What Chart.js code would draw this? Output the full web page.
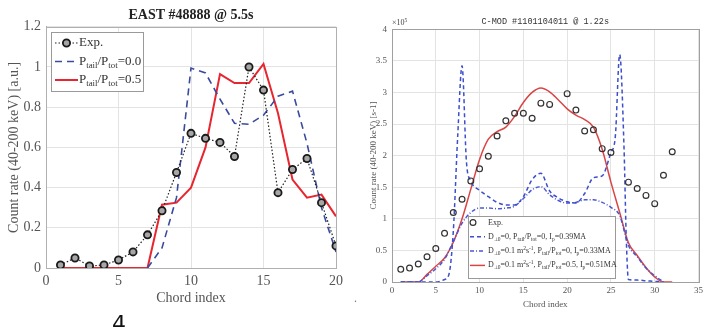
<!DOCTYPE html>
<html>
<head>
<meta charset="utf-8">
<script src="https://cdn.jsdelivr.net/npm/chart.js@4"></script>
<style>
  body { margin: 0; background: #fff; width: 706px; height: 327px; position: relative; overflow: hidden; }
  #eastBox { position: absolute; left: 0; top: 0; width: 360px; height: 327px; }
  #cmodBox { position: absolute; left: 360px; top: 0; width: 346px; height: 327px; }
  #figNum { position: absolute; left: 112px; top: 313px; font: normal 22px/22px 'DejaVu Sans', sans-serif; font-style: normal; color: #111; }
  #dot { position: absolute; left: 354px; top: 292px; font: 12px/12px 'Liberation Serif', serif; color: #777; }
</style>
</head>
<body>
<div id="eastBox"><canvas id="eastChart"></canvas></div>
<div id="cmodBox"><canvas id="cmodChart"></canvas></div>
<div id="figNum">4</div>
<div id="dot">.</div>
<script>
// EAST #48888 @ 5.5s
const eastChords = [1, 2, 3, 4, 5, 6, 7, 8, 9, 10, 11, 12, 13, 14, 15, 16, 17, 18, 19, 20];
const eastExp = [0.015, 0.05, 0.01, 0.015, 0.04, 0.08, 0.165, 0.285, 0.475, 0.67, 0.645, 0.625, 0.555, 1.0, 0.885, 0.375, 0.49, 0.545, 0.325, 0.11];
const eastTail00 = [null, null, null, null, null, null, 0, 0.1, 0.35, 0.995, 0.97, 0.84, 0.72, 0.715, 0.76, 0.855, 0.88, 0.62, 0.3, 0.08];
const eastTail05 = [0, 0, 0, 0, 0, 0, 0, 0.315, 0.325, 0.4, 0.6, 0.965, 0.92, 0.92, 1.015, 0.77, 0.44, 0.35, 0.365, 0.257];
const eastXTicks = [0, 5, 10, 15, 20];
const eastYTicks = [0, 0.2, 0.4, 0.6, 0.8, 1, 1.2];
const eastLegend = ['Exp.', 'P_{tail}/P_{tot}=0.0', 'P_{tail}/P_{tot}=0.5'];

// C-MOD #1101104011 @ 1.22s  (units of 1e5 s^-1)
const cmodChords = [1, 2, 3, 4, 5, 6, 7, 8, 9, 10, 11, 12, 13, 14, 15, 16, 17, 18, 19, 20, 21, 22, 23, 24, 25, 26, 27, 28, 29, 30, 31, 32];
const cmodExp = [0.2, 0.22, 0.285, 0.4, 0.53, 0.77, 1.1, 1.31, 1.6, 1.79, 1.99, 2.31, 2.55, 2.67, 2.67, 2.59, 2.83, 2.81, null, 2.98, 2.72, 2.39, 2.41, 2.11, 2.05, null, 1.58, 1.48, 1.37, 1.24, 1.69, 2.06];
const cmodNoDiffChords = [1, 2, 3, 4, 5, 6, 6.5, 7, 7.5, 8, 8.5, 9, 10, 11, 12, 13, 14, 15, 16, 17, 18, 19, 20, 21, 22, 23, 24, 25, 25.5, 26, 26.5, 26.75, 27, 28, 29, 30, 31];
const cmodNoDiff = [0, 0, 0, 0, 0, 0.04, 0.12, 0.8, 2.3, 3.42, 1.9, 1.6, 1.45, 1.35, 1.26, 1.22, 1.22, 1.35, 1.62, 1.72, 1.44, 1.33, 1.27, 1.25, 1.4, 1.65, 1.68, 2.05, 2.3, 3.6, 2.1, 0.7, 0.04, 0.03, 0.02, 0.01, 0];
const cmodTail0 = [0, 0, 0, 0.1, 0.21, 0.36, 0.64, 0.93, 1.1, 1.17, 1.17, 1.16, 1.17, 1.2, 1.32, 1.46, 1.51, 1.38, 1.29, 1.25, 1.26, 1.3, 1.3, 1.26, 1.18, 1.05, 0.58, 0.4, 0.22, 0.1, 0, null];
const cmodTail05 = [0, 0, 0, 0.12, 0.25, 0.38, 0.63, 1.0, 1.47, 1.94, 2.26, 2.38, 2.45, 2.62, 2.84, 3.0, 3.07, 3.01, 2.88, 2.74, 2.64, 2.57, 2.45, 2.1, 1.58, 1.1, 0.62, 0.42, 0.23, 0.08, 0, 0];
const cmodXTicks = [0, 5, 10, 15, 20, 25, 30, 35];
const cmodYTicks = [0, 0.5, 1, 1.5, 2, 2.5, 3, 3.5, 4];
const cmodLegend = [
  'Exp.',
  'D_{⊥0}=0, P_{tail}/P_{tot}=0, I_{p}=0.39MA',
  'D_{⊥0}=0.1 m^{2}s^{-1}, P_{tail}/P_{tot}=0, I_{p}=0.33MA',
  'D_{⊥0}=0.1 m^{2}s^{-1}, P_{tail}/P_{tot}=0.5, I_{p}=0.51MA'
];

const SERIF = "'Liberation Serif', 'Times New Roman', serif";
const pts = (xs, ys) => xs.map((x, i) => ({ x: x, y: ys[i] }));
const useTicks = (list) => (scale) => { scale.ticks = list.map(v => ({ value: v })); };

// text with _{sub} and ^{sup} parts
function drawRich(ctx, x, y, text, size, family) {
  text.split(/(_\{[^}]*\}|\^\{[^}]*\})/).forEach(part => {
    if (!part) return;
    let s = size, dy = 0, t = part;
    if (part.startsWith('_{')) { s = size * 0.68; dy = size * 0.32; t = part.slice(2, -1); }
    else if (part.startsWith('^{')) { s = size * 0.68; dy = -size * 0.36; t = part.slice(2, -1); }
    ctx.font = s + 'px ' + family;
    ctx.fillText(t, x, y + dy);
    x += ctx.measureText(t).width;
  });
}

// box around the plot, matlab style
const frame = {
  id: 'frame',
  afterDraw(chart, args, o) {
    const { ctx, chartArea: a } = chart;
    ctx.save();
    ctx.strokeStyle = o.color;
    ctx.lineWidth = 1;
    ctx.strokeRect(Math.round(a.left) + 0.5, Math.round(a.top) + 0.5, Math.round(a.width), Math.round(a.height));
    if (o.exponent) {
      ctx.fillStyle = '#444';
      ctx.textBaseline = 'alphabetic';
      drawRich(ctx, a.left, a.top - 4, o.exponent, 8, SERIF);
    }
    ctx.restore();
  }
};

// boxed legend with sub/superscripts
const boxLegend = {
  id: 'boxLegend',
  afterDraw(chart, args, o) {
    const { ctx, chartArea: a } = chart;
    const x0 = Math.round(a.left + o.x), y0 = Math.round(a.top + o.y);
    ctx.save();
    ctx.fillStyle = '#fff';
    ctx.fillRect(x0, y0, o.w, o.h);
    ctx.strokeStyle = o.edge;
    ctx.lineWidth = 1;
    ctx.strokeRect(x0 + 0.5, y0 + 0.5, o.w, o.h);
    o.labels.forEach((label, i) => {
      const ds = chart.data.datasets[i];
      const cy = y0 + o.first + i * o.step;
      if (ds.showLine !== false) {
        ctx.setLineDash(ds.borderDash || []);
        ctx.strokeStyle = ds.borderColor;
        ctx.lineWidth = ds.borderWidth;
        ctx.beginPath();
        ctx.moveTo(x0 + o.lineFrom, cy);
        ctx.lineTo(x0 + o.lineTo, cy);
        ctx.stroke();
        ctx.setLineDash([]);
      }
      if (ds.pointRadius > 0) {
        ctx.beginPath();
        ctx.arc(x0 + o.markX, cy, ds.pointRadius, 0, 2 * Math.PI);
        ctx.fillStyle = ds.pointBackgroundColor;
        ctx.fill();
        ctx.strokeStyle = ds.pointBorderColor;
        ctx.lineWidth = ds.pointBorderWidth;
        ctx.stroke();
      }
      ctx.fillStyle = o.color;
      ctx.textBaseline = 'middle';
      drawRich(ctx, x0 + o.textX, cy, label, o.size, SERIF);
    });
    ctx.restore();
  }
};

// Left chart: EAST

const eastConfig = {
  type: 'line',
  data: {
    datasets: [
      {
        data: pts(eastChords, eastExp),
        borderColor: '#222',
        borderWidth: 1.2,
        borderDash: [1.5, 2],
        pointRadius: 3.6,
        pointBackgroundColor: '#a6a6a6',
        pointBorderColor: '#1a1a1a',
        pointBorderWidth: 1.8,
      },
      {
        data: pts(eastChords, eastTail00),
        borderColor: '#3a4b9e',
        borderWidth: 1.6,
        borderDash: [7, 5],
        pointRadius: 0,
      },
      {
        data: pts(eastChords, eastTail05),
        borderColor: '#e8262f',
        borderWidth: 2,
        pointRadius: 0,
      },
    ],
  },
  options: {
    responsive: true,
    maintainAspectRatio: false,
    animation: false,
    layout: { padding: { left: 0, right: 24, top: 0, bottom: 0 } },
    scales: {
      x: {
        type: 'linear',
        min: 0,
        max: 20,
        afterBuildTicks: useTicks(eastXTicks),
        afterFit: (s) => { s.height = 59; },
        ticks: { padding: 5, color: '#555', font: { family: SERIF, size: 14 }, callback: (v) => String(v) },
        grid: { color: '#e3e3e3', drawTicks: false },
        border: { color: '#b0b0b0' },
        title: { display: true, text: 'Chord index', color: '#555', font: { family: SERIF, size: 14 }, padding: { top: 0, bottom: 20 } },
      },
      y: {
        min: 0,
        max: 1.2,
        afterBuildTicks: useTicks(eastYTicks),
        afterFit: (s) => { s.width = 46; },
        ticks: { padding: 5, color: '#555', font: { family: SERIF, size: 14 }, callback: (v) => String(v) },
        grid: { color: '#e3e3e3', drawTicks: false },
        border: { color: '#b0b0b0' },
        title: { display: true, text: 'Count rate (40-200 keV) [a.u.]', color: '#555', font: { family: SERIF, size: 14 }, padding: { top: 6, bottom: 0 } },
      },
    },
    plugins: {
      legend: { display: false },
      tooltip: { enabled: false },
      title: {
        display: true,
        fullSize: false,
        text: 'EAST #48888 @ 5.5s',
        color: '#222',
        font: { family: SERIF, size: 14, weight: 'bold' },
        padding: { top: 7, bottom: 3 },
      },
      frame: { color: '#b0b0b0' },
      boxLegend: {
        labels: eastLegend,
        x: 5, y: 5, w: 92, h: 59,
        first: 11, step: 18.5,
        lineFrom: 4, lineTo: 27, markX: 15.5, textX: 28,
        size: 13, color: '#333', edge: '#9a9a9a',
      },
    },
  },
  plugins: [frame, boxLegend],
};
new Chart(document.getElementById('eastChart'), eastConfig);

// Right chart: C-MOD

const cmodConfig = {
  type: 'line',
  data: {
    datasets: [
      {
        data: pts(cmodChords, cmodExp),
        showLine: false,
        borderColor: '#333',
        pointRadius: 2.9,
        pointBackgroundColor: 'rgba(0,0,0,0)',
        pointBorderColor: '#333',
        pointBorderWidth: 1.2,
      },
      {
        data: pts(cmodNoDiffChords, cmodNoDiff),
        borderColor: '#3d4fca',
        borderWidth: 1.5,
        borderDash: [4, 3],
        pointRadius: 0,
        cubicInterpolationMode: 'monotone',
      },
      {
        data: pts(cmodChords, cmodTail0),
        borderColor: '#4b57d2',
        borderWidth: 1.5,
        borderDash: [4, 2, 1, 2],
        pointRadius: 0,
        cubicInterpolationMode: 'monotone',
      },
      {
        data: pts(cmodChords, cmodTail05),
        borderColor: '#d94545',
        borderWidth: 1.5,
        pointRadius: 0,
        cubicInterpolationMode: 'monotone',
      },
    ],
  },
  options: {
    responsive: true,
    maintainAspectRatio: false,
    animation: false,
    layout: { padding: { left: 0, right: 5, top: 0, bottom: 0 } },
    scales: {
      x: {
        type: 'linear',
        min: 0,
        max: 35,
        afterBuildTicks: useTicks(cmodXTicks),
        afterFit: (s) => { s.height = 45; },
        ticks: { padding: 3, color: '#555', font: { family: SERIF, size: 9 }, callback: (v) => String(v) },
        grid: { color: '#e3e3e3', drawTicks: false },
        border: { color: '#a0a0a0' },
        title: { display: true, text: 'Chord index', color: '#555', font: { family: SERIF, size: 9 }, padding: { top: 0, bottom: 17 } },
      },
      y: {
        min: 0,
        max: 4,
        afterBuildTicks: useTicks(cmodYTicks),
        afterFit: (s) => { s.width = 32; },
        ticks: { padding: 5, color: '#555', font: { family: SERIF, size: 9 }, callback: (v) => String(v) },
        grid: { color: '#e3e3e3', drawTicks: false },
        border: { color: '#a0a0a0' },
        title: { display: true, text: 'Count rate (40-200 keV) [s-1]', color: '#555', font: { family: SERIF, size: 9 }, padding: { top: 8, bottom: 0 } },
      },
    },
    plugins: {
      legend: { display: false },
      tooltip: { enabled: false },
      title: {
        display: true,
        fullSize: false,
        text: 'C-MOD #1101104011 @ 1.22s',
        color: '#333',
        font: { family: "'Liberation Mono', 'DejaVu Sans Mono', monospace", size: 8.5, weight: 'normal' },
        padding: { top: 17, bottom: 2 },
      },
      frame: { color: '#a0a0a0', exponent: '×10^{5}' },
      boxLegend: {
        labels: cmodLegend,
        x: 76, y: 187, w: 147, h: 62,
        first: 6.5, step: 14.3,
        lineFrom: 2, lineTo: 17, markX: 5, textX: 20,
        size: 8, color: '#333', edge: '#9a9a9a',
      },
    },
  },
  plugins: [frame, boxLegend],
};
new Chart(document.getElementById('cmodChart'), cmodConfig);
</script>
</body>
</html>
